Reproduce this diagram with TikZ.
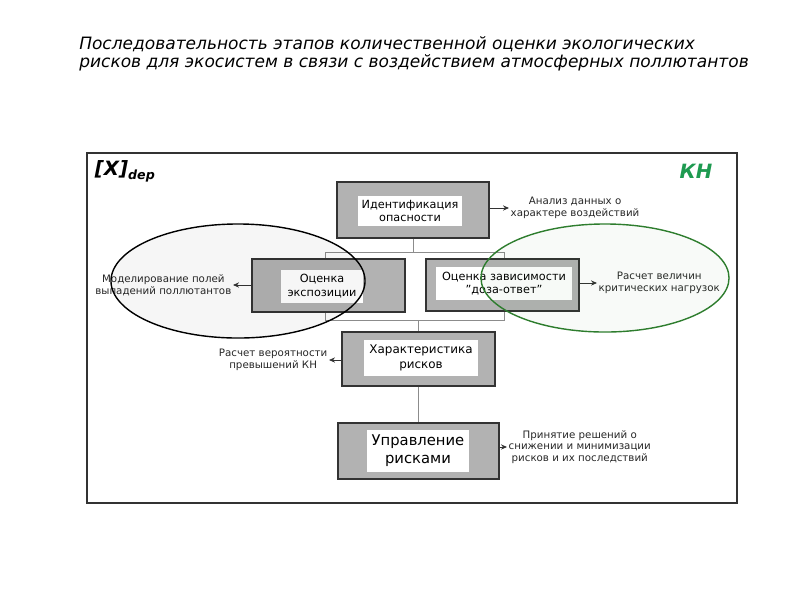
\documentclass[tikz,border=0pt]{standalone}
\usepackage{fontspec}
\setmainfont{DejaVu Sans}
\usetikzlibrary{arrows.meta, positioning, shapes.geometric}
\definecolor{kngreen}{HTML}{1E9A50}
\definecolor{ringgreen}{HTML}{2E7D2E}

\begin{document}
\begin{tikzpicture}[x=0.025cm, y=-0.025cm,
    stage/.style={rectangle, draw=black!80, line width=0.8pt, fill=black!30},
    inbox/.style={rectangle, fill=white, align=center, inner sep=0pt},
    note/.style={align=center, inner sep=1pt, text=black!85, font=\fontsize{7.3}{8.4}\selectfont},
    link/.style={draw=black!45, line width=0.6pt},
    arr/.style={-{Stealth[length=1.5mm, width=1.3mm]}, black!80, line width=0.6pt},
    ring/.style={ellipse, line width=1pt, fill opacity=0.035, inner sep=0pt}
]
\useasboundingbox (0,0) rectangle (800,600);

% title
\node[anchor=west, align=left, inner sep=0pt, font=\fontsize{12.1}{13}\selectfont\itshape] (title) at (79,54)
    {Последовательность этапов количественной оценки экологических\\
     рисков для экосистем в связи с воздействием атмосферных поллютантов};

% frame
\draw[black!80, line width=1.1pt] (87,153) rectangle (737,503);
\node[anchor=west, font=\fontsize{14}{16}\selectfont\bfseries\itshape] (xdep) at (90,171)
    {[X]\raisebox{-0.35ex}{\fontsize{9}{10}\selectfont dep}};
\node[font=\fontsize{14}{16}\selectfont\bfseries\itshape, text=kngreen] (kn) at (696,171) {КН};

% bracket behind the middle row
\coordinate (brnw) at (325,252);
\coordinate (brse) at (504,320);
\draw[link] (brnw) rectangle (brse);

% stages
\node[stage, minimum width=3.8cm, minimum height=1.4cm] (ident) at (413,210) {};
\node[inbox, minimum width=2.575cm, minimum height=0.75cm, font=\fontsize{8}{9.5}\selectfont] (identin) at (410,211)
    {Идентификация\\опасности};
\node[stage, minimum width=3.825cm, minimum height=1.325cm] (expo) at (328.5,285.5) {};
\node[inbox, minimum width=2.025cm, minimum height=0.825cm, font=\fontsize{8}{9.5}\selectfont] (expoin) at (322,286)
    {Оценка\\экспозиции};
\node[stage, minimum width=3.825cm, minimum height=1.3cm] (dose) at (502.5,285) {};
\node[inbox, minimum width=3.4cm, minimum height=0.825cm, font=\fontsize{8}{9.5}\selectfont] (dosein) at (504,283.5)
    {Оценка зависимости\\"доза-ответ"};
\node[stage, minimum width=3.825cm, minimum height=1.35cm] (risk) at (418.5,359) {};
\node[inbox, minimum width=2.85cm, minimum height=0.9cm, font=\fontsize{8.5}{10.5}\selectfont] (riskin) at (421,358)
    {Характеристика\\рисков};
\node[stage, minimum width=4.025cm, minimum height=1.4cm] (manage) at (418.5,451) {};
\node[inbox, minimum width=2.55cm, minimum height=1.05cm, font=\fontsize{10.5}{13}\selectfont] (managein) at (418,451)
    {Управление\\рисками};

% side notes
\node[note, anchor=west] (anal) at (509,208) {Анализ данных о\\характере воздействий};
\node[note, anchor=east] (model) at (233,285) {Моделирование полей\\выпадений поллютантов};
\node[note, anchor=west] (crit) at (597,283) {Расчет величин\\критических нагрузок};
\node[note, anchor=east] (prob) at (329,360) {Расчет вероятности\\превышений КН};
\node[note, anchor=west] (decis) at (507,447) {Принятие решений о\\снижении и минимизации\\рисков и их последствий};

% links
\draw[link] (ident.south) -- (ident.south |- brnw);
\draw[link] (risk.north |- brse) -- (risk.north);
\draw[link] (risk.south) -- (manage.north);

% arrows
\draw[arr] (ident.east |- anal.west) -- (anal.west);
\draw[arr] (expo.west |- model.east) -- (model.east);
\draw[arr] (dose.east |- crit.west) -- (crit.west);
\draw[arr] (risk.west |- prob.east) -- (prob.east);
\draw[arr] (manage.east |- decis.west) -- (decis.west);

% rings
\node[ring, draw=black, fill=black, minimum width=6.35cm, minimum height=2.85cm] (blackring) at (238,281) {};
\node[ring, draw=ringgreen, fill=ringgreen, minimum width=6.2cm, minimum height=2.7cm] (greenring) at (605,278) {};
\end{tikzpicture}
\end{document}
